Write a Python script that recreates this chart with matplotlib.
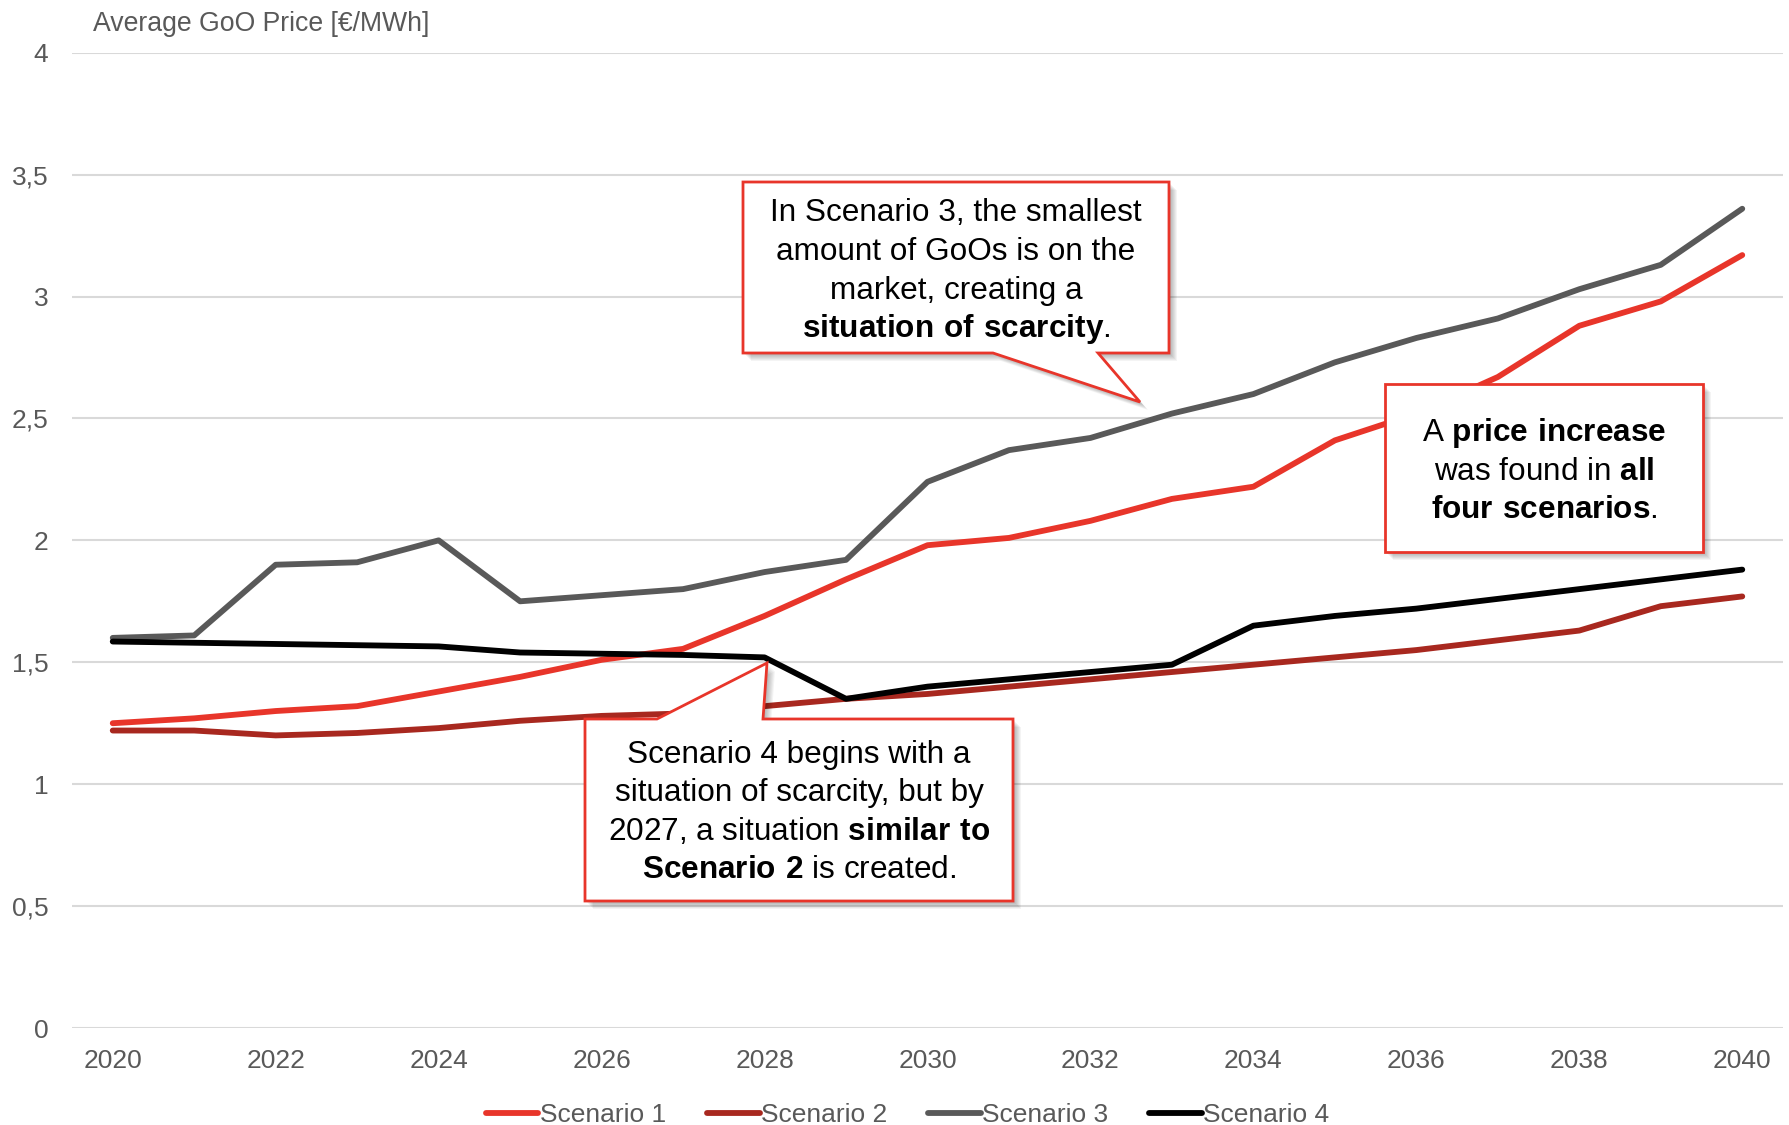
import matplotlib
matplotlib.use("Agg")
import matplotlib.pyplot as plt
from matplotlib.patches import Polygon
from matplotlib.ticker import FuncFormatter

plt.rcParams['font.family'] = ['Liberation Sans', 'DejaVu Sans']
plt.rcParams['mathtext.fontset'] = 'custom'
plt.rcParams['mathtext.rm'] = 'Liberation Sans'
plt.rcParams['mathtext.bf'] = 'Liberation Sans:bold'

years = list(range(2020, 2041))

scenario_1 = [1.25, 1.27, 1.30, 1.32, 1.38, 1.44, 1.51, 1.555, 1.69, 1.84, 1.98,
              2.01, 2.08, 2.17, 2.22, 2.41, 2.52, 2.67, 2.88, 2.98, 3.17]
scenario_2 = [1.22, 1.22, 1.20, 1.21, 1.23, 1.26, 1.28, 1.29, 1.32, 1.35, 1.37,
              1.40, 1.43, 1.46, 1.49, 1.52, 1.55, 1.59, 1.63, 1.73, 1.77]
scenario_3 = [1.60, 1.61, 1.90, 1.91, 2.00, 1.75, 1.775, 1.80, 1.87, 1.92, 2.24,
              2.37, 2.42, 2.52, 2.60, 2.73, 2.83, 2.91, 3.03, 3.13, 3.36]
scenario_4 = [1.585, 1.58, 1.575, 1.57, 1.565, 1.54, 1.535, 1.53, 1.52, 1.35, 1.40,
              1.43, 1.46, 1.49, 1.65, 1.69, 1.72, 1.76, 1.80, 1.84, 1.88]

series_names = ['Scenario 1', 'Scenario 2', 'Scenario 3', 'Scenario 4']
series_colors = ['#E8352A', '#A8281F', '#595959', '#000000']

y_ticks = [0, 0.5, 1, 1.5, 2, 2.5, 3, 3.5, 4]
x_ticks = list(range(2020, 2041, 2))

W, H = 1790, 1125
fig = plt.figure(figsize=(W / 100, H / 100), dpi=100)
ax = fig.add_axes([72 / W, 1 - 1028 / H, (1783 - 72) / W, (1028 - 52.7) / H])


def px(x, y):
    # pixel position (top-left origin) -> figure fraction
    return (x / W, 1 - y / H)


for vals, name, col in zip([scenario_1, scenario_2, scenario_3, scenario_4],
                           series_names, series_colors):
    ax.plot(years, vals, color=col, lw=4.2, label=name,
            solid_capstyle='round', solid_joinstyle='round')

ax.set_xlim(2019.5, 2040.5)
ax.set_ylim(0, 4)
ax.set_yticks(y_ticks)
ax.set_xticks(x_ticks)
ax.yaxis.set_major_formatter(FuncFormatter(lambda v, p: ('%g' % v).replace('.', ',')))
ax.grid(axis='y', color='#D9D9D9', lw=1.5)
ax.set_axisbelow(True)
for s in ax.spines.values():
    s.set_visible(False)
ax.tick_params(length=0, labelsize=19, colors='#595959')
ax.tick_params(axis='y', pad=17)
ax.tick_params(axis='x', pad=15)

fig.text(93 / W, 1 - 31 / H, 'Average GoO Price [€/MWh]', fontsize=19.2,
         color='#595959', va='baseline', ha='left')

leg = fig.legend(loc='center', bbox_to_anchor=(0.507, 1 - 1115.5 / H), ncol=4,
                 frameon=False, fontsize=19, handlelength=2.0, handletextpad=0.05,
                 columnspacing=1.55, borderpad=0)
for t in leg.get_texts():
    t.set_color('#595959')

# callouts
callouts = [
    {
        'shape': [(743, 182), (1169, 182), (1169, 353), (1098, 353), (1140, 402),
                  (993, 353), (743, 353)],
        'cx': 956, 'base': 221, 'step': 38.8,
        'lines': ['In Scenario 3, the smallest', 'amount of GoOs is on the',
                  'market, creating a', r'$\mathbf{situation\ of\ scarcity}$.'],
    },
    {
        'shape': [(585, 719), (657, 719), (767, 663), (763, 719), (1013, 719),
                  (1013, 901), (585, 901)],
        'cx': 799, 'base': 763, 'step': 38.3,
        'lines': ['Scenario 4 begins with a', 'situation of scarcity, but by',
                  r'2027, a situation $\mathbf{similar\ to}$',
                  r'$\mathbf{Scenario\ 2}$ is created.'],
    },
    {
        'shape': [(1385, 384), (1703, 384), (1703, 552), (1385, 552)],
        'cx': 1544, 'base': 441, 'step': 38.5,
        'lines': [r'A $\mathbf{price\ increase}$', r'was found in $\mathbf{all}$',
                  r'$\mathbf{four\ scenarios}$.'],
    },
]

for c in callouts:
    # soft shadow
    for d in range(2, 9):
        pts = [px(x + d, y + d) for x, y in c['shape']]
        fig.add_artist(Polygon(pts, closed=True, facecolor='black', edgecolor='none',
                               alpha=0.045, transform=fig.transFigure, zorder=4))
    pts = [px(x, y) for x, y in c['shape']]
    fig.add_artist(Polygon(pts, closed=True, facecolor='white', edgecolor='#E8352A',
                           lw=2, transform=fig.transFigure, zorder=5))
    for i, line in enumerate(c['lines']):
        x, y = px(c['cx'], c['base'] + i * c['step'])
        fig.text(x, y, line, fontsize=22.7, color='black', ha='center',
                 va='baseline', zorder=6)

fig.savefig('out.png', dpi=100)
